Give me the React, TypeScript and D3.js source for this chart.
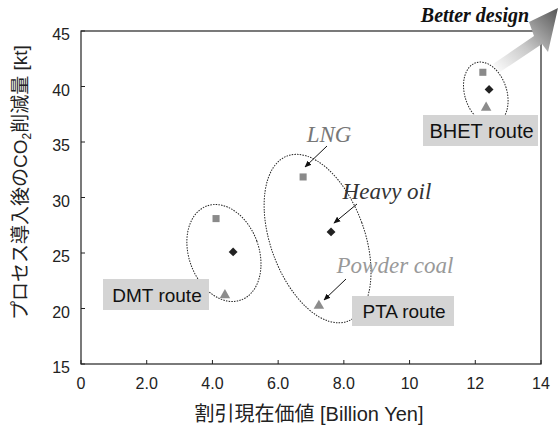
import React from "react";
import * as d3 from "d3";

const W = 559, H = 427;
const margin = { left: 81, right: 18, top: 31, bottom: 63 };

const xTicks = [0, 2, 4, 6, 8, 10, 12, 14];
const xTickLabels = ["0", "2.0", "4.0", "6.0", "8.0", "10", "12", "14"];
const yTicks = [15, 20, 25, 30, 35, 40, 45];

const routes = ["DMT route", "PTA route", "BHET route"];
const lngX = [4.11, 6.76, 12.23];
const lngY = [28.1, 31.85, 41.28];
const oilX = [4.63, 7.61, 12.42];
const oilY = [25.1, 26.9, 39.74];
const coalX = [4.38, 7.24, 12.33];
const coalY = [21.2, 20.25, 38.1];

// ellipse (data units center) for each route group
const ellCx = [4.35, 7.2, 12.32];
const ellCy = [25.0, 26.3, 39.4];

export default function App() {
  const x = d3.scaleLinear().domain([0, 14]).range([margin.left, W - margin.right]);
  const y = d3.scaleLinear().domain([15, 45]).range([H - margin.bottom, margin.top]);
  const x0 = x(0), x1 = x(14), y0 = y(15), y1 = y(45);

  const sq = d3.symbol().type(d3.symbolSquare).size(50)()!;
  const di = d3.symbol().type(d3.symbolDiamond2).size(50)()!;
  const tr = d3.symbol().type(d3.symbolTriangle).size(48)()!;

  const ellR = [
    [35, 50, 20],
    [47, 88, 20],
    [21, 32, 18],
  ];

  const boxes = [
    { x: 103, y: 279, w: 106, h: 31, fs: 19 },
    { x: 352, y: 296, w: 102, h: 30, fs: 19 },
    { x: 423, y: 115, w: 115, h: 31, fs: 20 },
  ];

  const cjk = "'Liberation Sans', Arial, 'Noto Sans CJK JP', sans-serif";
  const serif = "'Liberation Serif', 'Times New Roman', serif";

  return (
    <svg width={W} height={H} style={{ position: "absolute", left: 0, top: 0 }} fontFamily={cjk}>
      <defs>
        <linearGradient id="bd" x1="0" y1="1" x2="1" y2="0">
          <stop offset="0" stopColor="#ffffff" stopOpacity={1} />
          <stop offset="0.45" stopColor="#c8c8c8" />
          <stop offset="1" stopColor="#555555" />
        </linearGradient>
        <marker id="ah" viewBox="0 0 10 10" refX="9" refY="5" markerWidth="7" markerHeight="7" orient="auto">
          <path d="M0,1 L10,5 L0,9 z" fill="#111" />
        </marker>
      </defs>
      <rect width={W} height={H} fill="#fff" />
      {/* frame */}
      <rect x={x0} y={y1} width={x1 - x0} height={y0 - y1} fill="none" stroke="#222" strokeWidth={1.2} />
      {xTicks.map((t, i) => (
        <g key={"xt" + i}>
          <line x1={x(t)} x2={x(t)} y1={y0} y2={y0 - 4} stroke="#222" />
          <text x={x(t)} y={y0 + 25} textAnchor="middle" fontSize={16} fill="#222">{xTickLabels[i]}</text>
        </g>
      ))}
      {yTicks.map((t, i) => (
        <g key={"yt" + i}>
          <line x1={x0} x2={x0 + 4} y1={y(t)} y2={y(t)} stroke="#222" />
          <text x={x0 - 11} y={y(t) + 9} textAnchor="end" fontSize={16} fill="#222">{t}</text>
        </g>
      ))}
      <text x={(x0 + x1) / 2 - 2} y={421} textAnchor="middle" fontSize={20} fill="#222">
        割引現在価値 [Billion Yen]
      </text>
      <text transform={`translate(27,${(y0 + y1) / 2 - 15}) rotate(-90)`} textAnchor="middle" fontSize={19} fill="#222">
        プロセス導入後のCO<tspan fontSize={12} dy={4}>2</tspan><tspan dy={-4}>削減量 [kt]</tspan>
      </text>

      {/* ellipses */}
      {ellCx.map((cx, i) => (
        <ellipse key={"e" + i} cx={0} cy={0} rx={ellR[i][0]} ry={ellR[i][1]}
          transform={`translate(${x(cx)},${y(ellCy[i])}) rotate(${-ellR[i][2]})`}
          fill="none" stroke="#222" strokeWidth={1} strokeDasharray="1.5,1.2" />
      ))}

      {/* label boxes */}
      {boxes.map((b, i) => (
        <g key={"b" + i}>
          <rect x={b.x} y={b.y} width={b.w} height={b.h} fill="#d4d4d4" />
          <text x={b.x + b.w / 2 + 1} y={b.y + b.h / 2 + 7} textAnchor="middle" fontSize={b.fs} fill="#111">{routes[i]}</text>
        </g>
      ))}

      {/* markers */}
      {lngX.map((v, i) => (
        <path key={"s" + i} d={sq} transform={`translate(${x(v)},${y(lngY[i])})`} fill="#8a8a8a" />
      ))}
      {oilX.map((v, i) => (
        <path key={"d" + i} d={di} transform={`translate(${x(v)},${y(oilY[i])})`} fill="#222" />
      ))}
      {coalX.map((v, i) => (
        <path key={"t" + i} d={tr} transform={`translate(${x(v)},${y(coalY[i])})`} fill="#8c8c8c" />
      ))}

      {/* annotations */}
      <text x={329} y={142} textAnchor="middle" fontFamily={serif} fontStyle="italic" fontSize={23} fill="#777">LNG</text>
      <line x1={327} y1={146} x2={305} y2={167} stroke="#111" strokeWidth={1} markerEnd="url(#ah)" />
      <text x={387} y={199} textAnchor="middle" fontFamily={serif} fontStyle="italic" fontSize={23} fill="#333">Heavy oil</text>
      <line x1={357} y1={204} x2={334} y2={223} stroke="#111" strokeWidth={1} markerEnd="url(#ah)" />
      <text x={395} y={273} textAnchor="middle" fontFamily={serif} fontStyle="italic" fontSize={23} fill="#999">Powder coal</text>
      <line x1={346} y1={279} x2={324} y2={300} stroke="#111" strokeWidth={1} markerEnd="url(#ah)" />

      {/* better design arrow */}
      <path d="M493,64 L534,36 L529,22 L558,8 L548,52 L542,44 L500,72 Z" fill="url(#bd)" />
      <text x={475} y={22} textAnchor="middle" fontFamily={serif} fontStyle="italic" fontWeight="bold" fontSize={20} fill="#111">Better design</text>
    </svg>
  );
}
